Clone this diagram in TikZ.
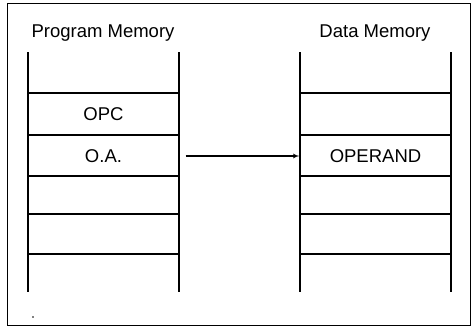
\documentclass[tikz,border=0pt]{standalone}
\usepackage{fontspec}
\setmainfont{Liberation Sans}
\usetikzlibrary{arrows}
\tikzstyle{line} = [draw, -latex']
\tikzstyle{cell} = [minimum width=151pt, minimum height=41pt, inner sep=0pt]

\begin{document}
\begin{tikzpicture}[x=1pt,y=-1pt,line width=1.2pt,
  every node/.style={font=\fontsize{18.5}{22}\selectfont}]
\useasboundingbox (0,0) rectangle (474,327);
\draw[line width=0.9pt] (7,3) rectangle (470,325);
%
\node (pmtitle) at (103,33) {Program Memory};
\draw (28,52) -- (28,292);
\draw (179,52) -- (179,292);
\draw (28,93) -- (179,93);
\draw (28,135) -- (179,135);
\draw (28,176) -- (179,176);
\draw (28,214) -- (179,214);
\draw (28,254) -- (179,254);
\node[cell] (opc) at (103.5,114) {OPC};
\node[cell] (oa) at (103.5,156) {O.A.};
%
\node (dmtitle) at (375,33) {Data Memory};
\draw (300,52) -- (300,292);
\draw (451,52) -- (451,292);
\draw (300,93) -- (451,93);
\draw (300,135) -- (451,135);
\draw (300,176) -- (451,176);
\draw (300,214) -- (451,214);
\draw (300,254) -- (451,254);
\node[cell] (operand) at (375.5,156) {OPERAND};
%
\path[line] ([xshift=6pt]oa.east) -- (operand.west);
\fill (33,317) circle (0.8pt);
\end{tikzpicture}
\end{document}
